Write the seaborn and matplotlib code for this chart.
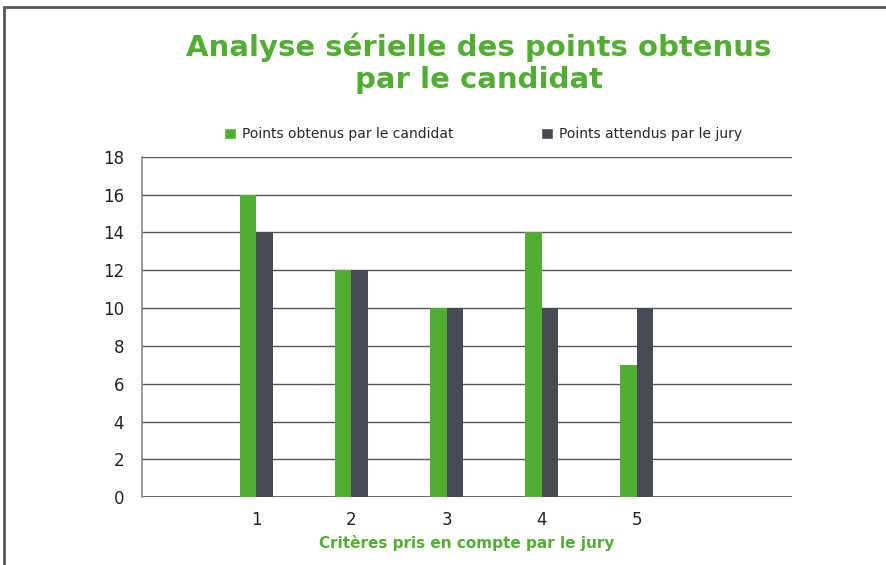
import pandas as pd
import seaborn as sns
import matplotlib.pyplot as plt
from matplotlib.patches import Rectangle, Patch

# Data
criteres = ["1", "2", "3", "4", "5"]
points_obtenus = [16, 12, 10, 14, 7]
points_attendus = [14, 12, 10, 10, 10]
series = ["Points obtenus par le candidat", "Points attendus par le jury"]

vert = "#52ae32"
gris = "#474a51"

df = pd.DataFrame({
    "critere": criteres * 2,
    "points": points_obtenus + points_attendus,
    "serie": [series[0]] * 5 + [series[1]] * 5,
})

sns.set_style("white")
plt.rcParams["font.family"] = ["DejaVu Sans"]

fig = plt.figure(figsize=(8.87, 5.65), dpi=100)
ax = fig.add_axes([0.1604, 0.1198, 0.7321, 0.6029])

sns.barplot(data=df, x="critere", y="points", hue="serie",
            palette=[vert, gris], width=0.35, saturation=1,
            linewidth=0, legend=False, ax=ax)

ax.set_ylim(0, 18)
ax.set_xlim(-1.2, 5.63)
ax.set_yticks(range(0, 19, 2))
ax.yaxis.grid(True, color="#55575c", linewidth=1)
ax.set_axisbelow(True)
ax.axhline(0, color="#55575c", linewidth=1.2, zorder=0.5)
for s in ["top", "right", "bottom"]:
    ax.spines[s].set_visible(False)
ax.spines["left"].set_color("#8a8a8a")
ax.spines["left"].set_linewidth(1.2)
ax.tick_params(axis="y", length=5, color="#8a8a8a", labelsize=12,
               labelcolor="#222222", pad=8)
ax.tick_params(axis="x", length=0, labelsize=12, labelcolor="#222222", pad=10)
ax.set_ylabel("")
ax.set_xlabel("Critères pris en compte par le jury", color=vert,
              fontsize=11, fontweight="bold", labelpad=4)

# legend above the plot
handles = [Patch(facecolor=vert), Patch(facecolor=gris)]
fig.legend(handles, series, loc="center left", ncol=2,
           bbox_to_anchor=(0.238, 0.762), frameon=False,
           handlelength=0.9, handleheight=0.9, handletextpad=0.4,
           columnspacing=6.3, prop={"size": 10})

fig.text(0.54, 0.888, "Analyse sérielle des points obtenus\npar le candidat",
         ha="center", va="center", color=vert, fontsize=21,
         fontweight="bold", linespacing=1.2)

# outer frame
fig.patches.append(Rectangle((4 / 887, -0.1), 1.2, 1.1 - 7 / 565,
                             transform=fig.transFigure, fill=False,
                             edgecolor="#555555", linewidth=2))

fig.savefig("out.png", dpi=100)
